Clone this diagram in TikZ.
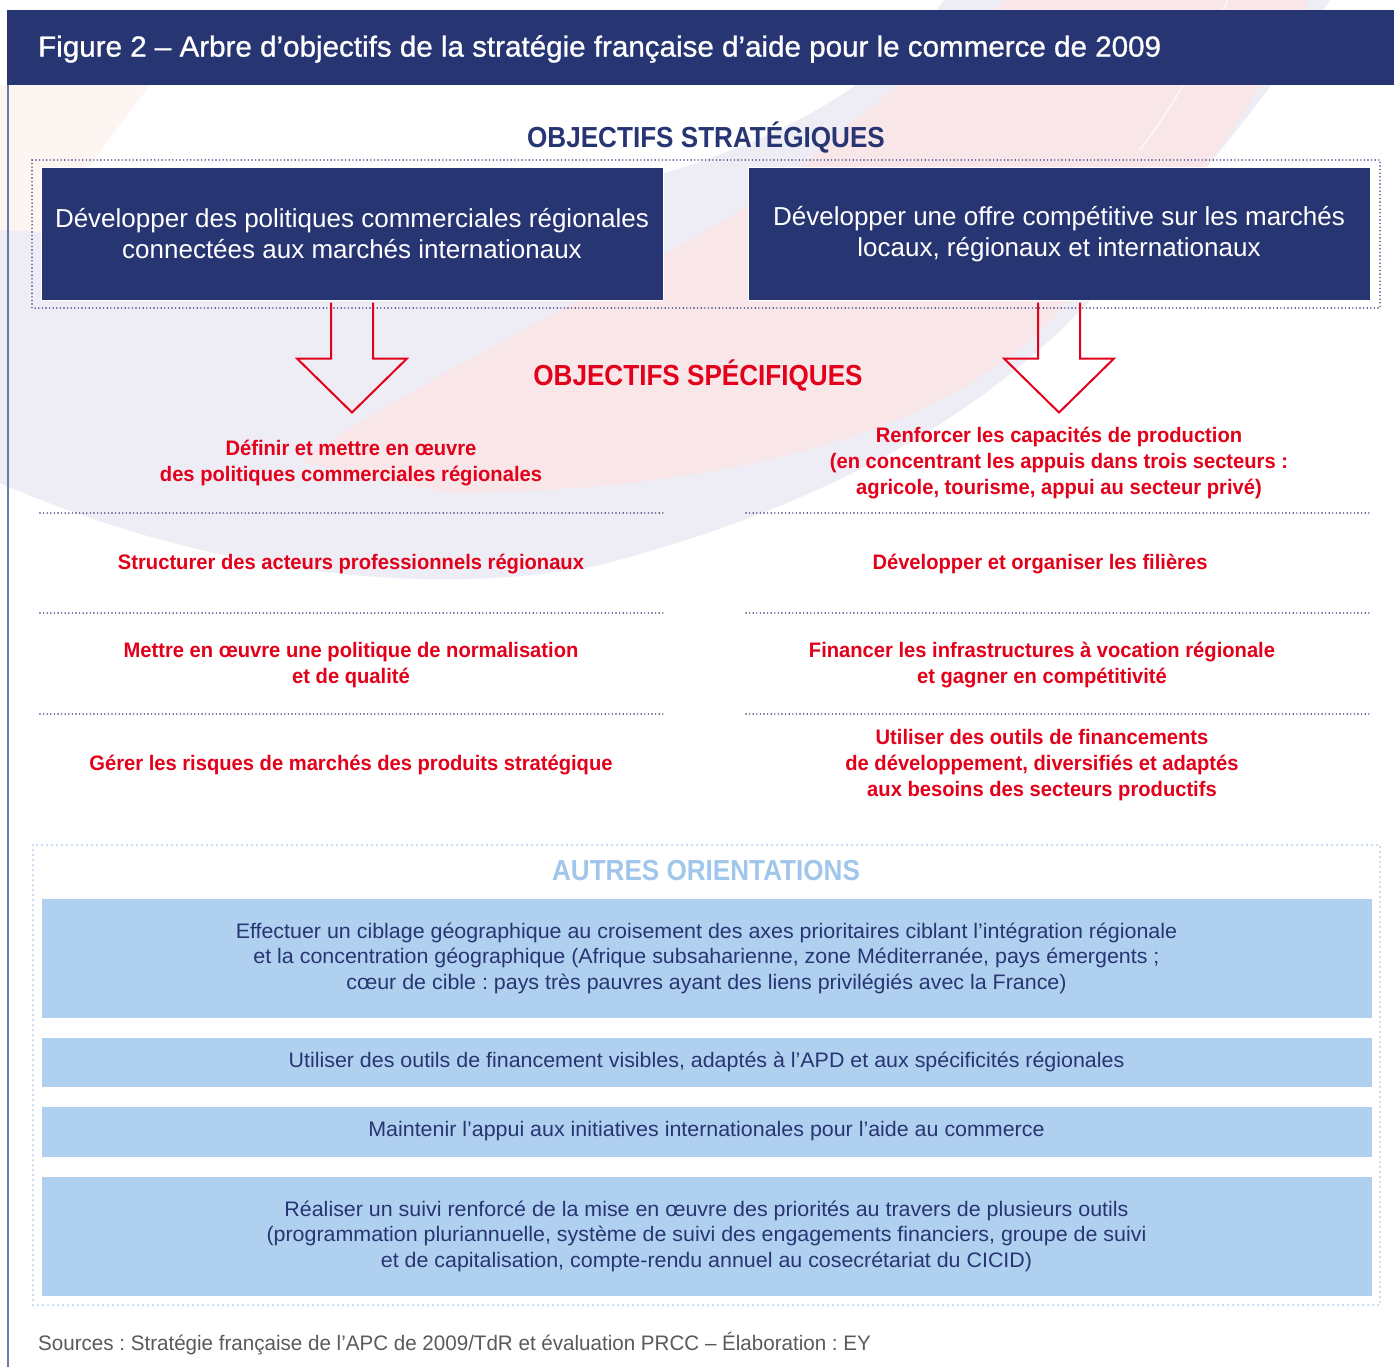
\documentclass[tikz,border=0pt]{standalone}
\usepackage{fontspec}
\setmainfont{Liberation Sans}
\newfontfamily\titlefont[FakeStretch=1.02,FakeBold=1]{Liberation Sans}
\newfontfamily\headfont[FakeStretch=0.9]{Liberation Sans}
\newfontfamily\condfont[FakeStretch=0.96]{Liberation Sans}
\newfontfamily\boxfont[FakeStretch=1.0]{Liberation Sans}
\newfontfamily\plainfont[FakeStretch=1.02]{Liberation Sans}
\newfontfamily\srcfont[FakeStretch=0.98]{Liberation Sans}
\frenchspacing
\usetikzlibrary{calc}
\definecolor{navy}{RGB}{40,53,115}
\definecolor{redobj}{RGB}{226,0,26}
\definecolor{lightblue}{RGB}{175,208,238}
\definecolor{dotblue}{RGB}{168,201,236}
\definecolor{autreblue}{RGB}{160,198,236}
\definecolor{srcgray}{RGB}{90,90,90}
\definecolor{sidegray}{RGB}{110,120,170}
\definecolor{lavender}{RGB}{238,237,245}
\definecolor{pinkish}{RGB}{249,230,233}
\definecolor{peach}{RGB}{253,245,242}

\begin{document}
\begin{tikzpicture}[x=1pt, y=-1pt,
every node/.style={inner sep=0pt},
stratbox/.style={fill=navy, draw=white, line width=1pt, minimum width=622pt, minimum height=132pt, text=white, align=center, font=\boxfont\fontsize{26}{31}\selectfont},
spectext/.style={text=redobj, align=center, font=\condfont\bfseries\fontsize{21}{26}\selectfont},
heading/.style={font=\headfont\bfseries\fontsize{29}{34}\selectfont},
orientbox/.style={fill=lightblue, draw=white, line width=1pt, minimum width=1331pt, text=navy, align=center, font=\plainfont\fontsize{21}{25.5}\selectfont},
navydots/.style={draw=navy, line width=1.6pt, line cap=round, dash pattern=on 0pt off 3.6pt},
bluedots/.style={draw=dotblue, line width=2pt, line cap=round, dash pattern=on 0pt off 5pt},
bigarrow/.style={draw=redobj, line width=2pt, line join=miter}
]
\useasboundingbox (0,0) rectangle (1394,1367);
\fill[white] (0,0) rectangle (1394,1367);

\fill[peach] (0,85) -- (150,85) .. controls (100,150) and (40,230) .. (0,320) -- cycle;
\fill[lavender] (944,0) .. controls (800,200) and (400,250) .. (0,230) -- (0,483) .. controls (200,570) and (420,600) .. (600,565) .. controls (850,500) and (1000,400) .. (1100,290) .. controls (1200,180) and (1280,80) .. (1330,0) -- cycle;
\fill[pinkish] (1005,0) -- (1309,0) .. controls (1230,150) and (1150,250) .. (1065,303) .. controls (990,400) and (800,490) .. (453,493) .. controls (380,480) and (330,470) .. (300,460) .. controls (500,330) and (700,250) .. (803,165) .. controls (860,110) and (950,50) .. cycle;
\draw[white, line width=2pt, opacity=0.6] (1228,0) .. controls (1200,60) and (1170,110) .. (1140,150);

\fill[navy] (7,10) rectangle (1394,85);
\draw[sidegray, line width=2pt] (8,85) -- (8,1367);
\node[anchor=west, text=white, font=\titlefont\fontsize{29}{34}\selectfont] (title) at (38,49) {Figure 2 – Arbre d’objectifs de la stratégie française d’aide pour le commerce de 2009};

\node[heading, text=navy] (strat) at (706,138) {OBJECTIFS STRATÉGIQUES};
\draw[navydots] (32,160) rectangle (1380,308);
\node[stratbox] (box1) at (352,234) {Développer des politiques commerciales régionales\\connectées aux marchés internationaux};
\node[stratbox] (box2) at (1059,234) {Développer une offre compétitive sur les marchés\\locaux, régionaux et internationaux};

\foreach \b in {box1,box2}
  \draw[bigarrow] ($(\b.south)+(-21,2)$) -- ++(0,56) -- ++(-34,0) -- ++(55,54) -- ++(55,-54) -- ++(-34,0) -- ++(0,-56);

\node[heading, text=redobj] (spec) at (698,376) {OBJECTIFS SPÉCIFIQUES};

\node[spectext] (l1) at (351,463) {Définir et mettre en œuvre\\des politiques commerciales régionales};
\node[spectext] (l2) at (351,564) {Structurer des acteurs professionnels régionaux};
\node[spectext] (l3) at (351,665) {Mettre en œuvre une politique de normalisation\\et de qualité};
\node[spectext] (l4) at (351,765) {Gérer les risques de marchés des produits stratégique};
\node[spectext] (r1) at (1059,463) {Renforcer les capacités de production\\(en concentrant les appuis dans trois secteurs :\\agricole, tourisme, appui au secteur privé)};
\node[spectext] (r2) at (1040,564) {Développer et organiser les filières};
\node[spectext] (r3) at (1042,665) {Financer les infrastructures à vocation régionale\\et gagner en compétitivité};
\node[spectext] (r4) at (1042,765) {Utiliser des outils de financements\\de développement, diversifiés et adaptés\\aux besoins des secteurs productifs};

\foreach \y in {513,613,714} {
  \draw[navydots] (40,\y) -- (666,\y);
  \draw[navydots] (746,\y) -- (1372,\y);
}

\draw[bluedots] (33,845) rectangle (1380,1305);
\node[heading, text=autreblue] (autres) at (706,871) {AUTRES ORIENTATIONS};
\node[orientbox, minimum height=120pt] (o1) at (706.5,958) {Effectuer un ciblage géographique au croisement des axes prioritaires ciblant l’intégration régionale\\et la concentration géographique (Afrique subsaharienne, zone Méditerranée, pays émergents ;\\cœur de cible : pays très pauvres ayant des liens privilégiés avec la France)};
\node[orientbox, minimum height=50pt] (o2) at (706.5,1062) {Utiliser des outils de financement visibles, adaptés à l’APD et aux spécificités régionales};
\node[orientbox, minimum height=51pt] (o3) at (706.5,1131.5) {Maintenir l’appui aux initiatives internationales pour l’aide au commerce};
\node[orientbox, minimum height=120pt] (o4) at (706.5,1236) {Réaliser un suivi renforcé de la mise en œuvre des priorités au travers de plusieurs outils\\(programmation pluriannuelle, système de suivi des engagements financiers, groupe de suivi\\et de capitalisation, compte-rendu annuel au cosecrétariat du CICID)};

\node[anchor=west, text=srcgray, font=\srcfont\fontsize{21}{25}\selectfont] (src) at (38,1344) {Sources : Stratégie française de l’APC de 2009/TdR et évaluation PRCC – Élaboration : EY};
\end{tikzpicture}
\end{document}
